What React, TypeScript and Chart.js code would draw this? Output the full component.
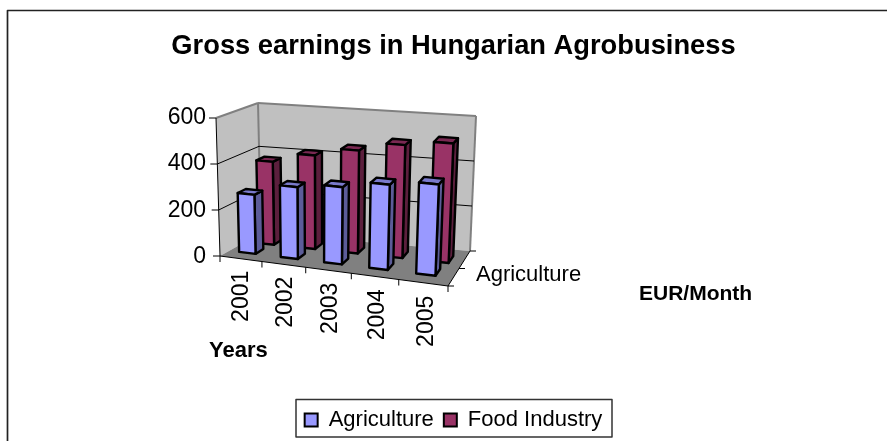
import { useEffect, useRef } from "react";
import { Chart, registerables } from "chart.js";

Chart.register(...registerables);

const years = ["2001", "2002", "2003", "2004", "2005"];
const agriculture = [259, 313, 334, 366, 389];
const foodIndustry = [372, 417, 455, 496, 520];
const yTicks = [0, 200, 400, 600];
const depthLabel = "Agriculture";

type P = [number, number];
const FLB: P = [220, 256], FRB: P = [448, 286], BLB: P = [261, 233], BRB: P = [470, 251];
const FLT: P = [216, 118], FRT: P = [454, 143], BLT: P = [258, 103], BRT: P = [476, 116];
const WARP = 0.1;

const mix = (a: P, b: P, t: number): P => [a[0] + (b[0] - a[0]) * t, a[1] + (b[1] - a[1]) * t];
const project = (uRaw: number, v: number, w: number): P => {
  const u = uRaw + WARP * uRaw * (uRaw - 1);
  const bottom = mix(mix(FLB, FRB, u), mix(BLB, BRB, u), v);
  const top = mix(mix(FLT, FRT, u), mix(BLT, BRT, u), v);
  return mix(bottom, top, w);
};

const rows = [
  { v0: 0.23, v1: 0.43, shift: -0.012, side: "#5c5c99", top: "#7a7acc" },
  { v0: 0.62, v1: 0.82, shift: 0.005, side: "#5c1f3d", top: "#7a2952" },
];

function poly(ctx: CanvasRenderingContext2D, pts: P[], fill?: string, stroke?: string, lw = 1) {
  ctx.beginPath();
  pts.forEach((p, i) => (i ? ctx.lineTo(p[0], p[1]) : ctx.moveTo(p[0], p[1])));
  ctx.closePath();
  if (fill) { ctx.fillStyle = fill; ctx.fill(); }
  if (stroke) { ctx.strokeStyle = stroke; ctx.lineWidth = lw; ctx.stroke(); }
}
function line(ctx: CanvasRenderingContext2D, a: P, b: P, color: string, lw: number) {
  ctx.beginPath();
  ctx.moveTo(a[0], a[1]);
  ctx.lineTo(b[0], b[1]);
  ctx.strokeStyle = color;
  ctx.lineWidth = lw;
  ctx.stroke();
}

const scene3d = {
  id: "scene3d",
  beforeDatasetsDraw(chart: any) {
    const ctx: CanvasRenderingContext2D = chart.ctx;
    const area = chart.chartArea;
    const y = chart.scales.y;
    ctx.save();
    ctx.lineJoin = "round";

    // outer frame: open on the right and bottom, as in the source
    ctx.beginPath();
    ctx.moveTo(7.5, 441);
    ctx.lineTo(7.5, 10.5);
    ctx.lineTo(887, 10.5);
    ctx.strokeStyle = "#222";
    ctx.lineWidth = 1.7;
    ctx.stroke();

    // legend frame
    ctx.strokeStyle = "#333";
    ctx.lineWidth = 1.5;
    ctx.strokeRect(296, 399.5, 316, 37.5);

    // walls and floor
    poly(ctx, [BLB, BLT, BRT, BRB], "#c0c0c0");
    poly(ctx, [FLB, FLT, BLT, BLB], "#c0c0c0");
    poly(ctx, [FLB, FRB, BRB, BLB], "#808080");
    line(ctx, FLT, BLT, "#808080", 2);
    line(ctx, BLT, BRT, "#808080", 2);
    line(ctx, BRT, BRB, "#808080", 2);
    line(ctx, BLT, BLB, "#808080", 2);

    // gridlines and value ticks
    for (const t of yTicks) {
      const w = (area.bottom - y.getPixelForValue(t)) / area.height;
      const a = project(0, 0, w), b = project(0, 1, w), c = project(1, 1, w);
      if (t !== 0 && t !== 600) {
        line(ctx, a, b, "#000", 1);
        line(ctx, b, c, "#000", 1);
      }
      line(ctx, [a[0] - 7, a[1]], a, "#000", 1);
    }
    line(ctx, FLT, FLB, "#000", 1);
    line(ctx, FLB, FRB, "#000", 1);
    line(ctx, FRB, BRB, "#000", 1);

    // category ticks and labels
    years.forEach((_, i) => {
      const p = project(i / years.length, 0, 0);
      line(ctx, p, [p[0], p[1] + 6], "#000", 1);
    });
    line(ctx, FRB, [FRB[0], FRB[1] + 6], "#000", 1);
    ctx.font = '23px "Liberation Sans"';
    years.forEach((label, i) => {
      const p = project((i + 0.5) / years.length, 0, 0);
      ctx.save();
      ctx.translate(p[0] + 1 + (3 * i) / 4, p[1] + 12 + i / 4);
      ctx.rotate(-Math.PI / 2);
      ctx.textAlign = "right";
      ctx.textBaseline = "middle";
      ctx.fillStyle = "#000";
      ctx.fillText(label, 0, 0);
      ctx.restore();
    });

    // depth ticks and label
    [0, 0.5, 1].forEach((v) => {
      const p = project(1, v, 0);
      line(ctx, p, [p[0] + 6, p[1]], "#000", 1);
    });
    ctx.fillStyle = "#000";
    ctx.textAlign = "left";
    ctx.textBaseline = "middle";
    ctx.font = '22px "Liberation Sans"';
    ctx.fillText(depthLabel, 476, 275);

    // axis titles
    ctx.font = 'bold 22px "Liberation Sans"';
    ctx.fillText("Years", 209, 351);
    ctx.font = 'bold 21px "Liberation Sans"';
    ctx.fillText("EUR/Month", 639, 294);

    // bars: back row first, each drawn from its bar element and the scales
    [1, 0].forEach((ds) => {
      const row = rows[ds];
      const meta = chart.getDatasetMeta(ds);
      const front = chart.data.datasets[ds].backgroundColor as string;
      meta.data.forEach((el: any) => {
        const u0 = (el.x - el.width / 2 - area.left) / area.width + row.shift;
        const u1 = (el.x + el.width / 2 - area.left) / area.width + row.shift;
        const w = (area.bottom - el.y) / area.height;
        const a = project(u0, row.v0, 0), b = project(u1, row.v0, 0);
        const c = project(u1, row.v0, w), d = project(u0, row.v0, w);
        const e = project(u1, row.v1, 0), f = project(u1, row.v1, w), g = project(u0, row.v1, w);
        poly(ctx, [b, e, f, c], row.side, "#000", 2.4);
        poly(ctx, [d, c, f, g], row.top, "#000", 2.4);
        poly(ctx, [a, b, c, d], front, "#000", 2.4);
      });
    });
    ctx.restore();
    return false;
  },
};

export default function App() {
  const ref = useRef<HTMLCanvasElement>(null);
  useEffect(() => {
    const chart = new Chart(ref.current!, {
      type: "bar",
      data: {
        labels: years,
        datasets: [
          { label: "Agriculture", data: agriculture, backgroundColor: "#9999ff", borderColor: "#000", borderWidth: 2 },
          { label: "Food Industry", data: foodIndustry, backgroundColor: "#993366", borderColor: "#000", borderWidth: 2 },
        ],
      },
      plugins: [scene3d],
      options: {
        animation: false,
        responsive: false,
        layout: { padding: { left: 20, right: 0, top: 0, bottom: 0 } },
        datasets: { bar: { grouped: false, categoryPercentage: 1, barPercentage: 0.4 } },
        plugins: {
          title: {
            display: true,
            text: "Gross earnings in Hungarian Agrobusiness",
            color: "#000",
            font: { family: "Liberation Sans", size: 27.3, weight: "bold", lineHeight: 1.2 },
            padding: { top: 30, bottom: 55.2 },
          },
          legend: {
            position: "bottom",
            labels: {
              color: "#000",
              boxWidth: 13,
              boxHeight: 13,
              padding: 10,
              font: { family: "Liberation Sans", size: 22 },
            },
          },
          tooltip: { enabled: false },
        },
        scales: {
          x: {
            grid: { display: false },
            border: { display: false },
            ticks: { display: false },
            afterFit: (s: any) => { s.height = 142.6; },
          },
          y: {
            min: 0,
            max: 600,
            grid: { display: false, drawTicks: false },
            border: { display: false },
            afterBuildTicks: (s: any) => { s.ticks = yTicks.map((value) => ({ value })); },
            ticks: {
              color: "#000",
              padding: 14,
              font: { family: "Liberation Sans", size: 23 },
            },
            afterFit: (s: any) => { s.width = 200; },
          },
        },
      } as any,
    });
    return () => chart.destroy();
  }, []);
  return (
    <canvas
      ref={ref}
      width={887}
      height={441}
      style={{ position: "fixed", left: 0, top: 0, width: 887, height: 441, display: "block" }}
    />
  );
}
